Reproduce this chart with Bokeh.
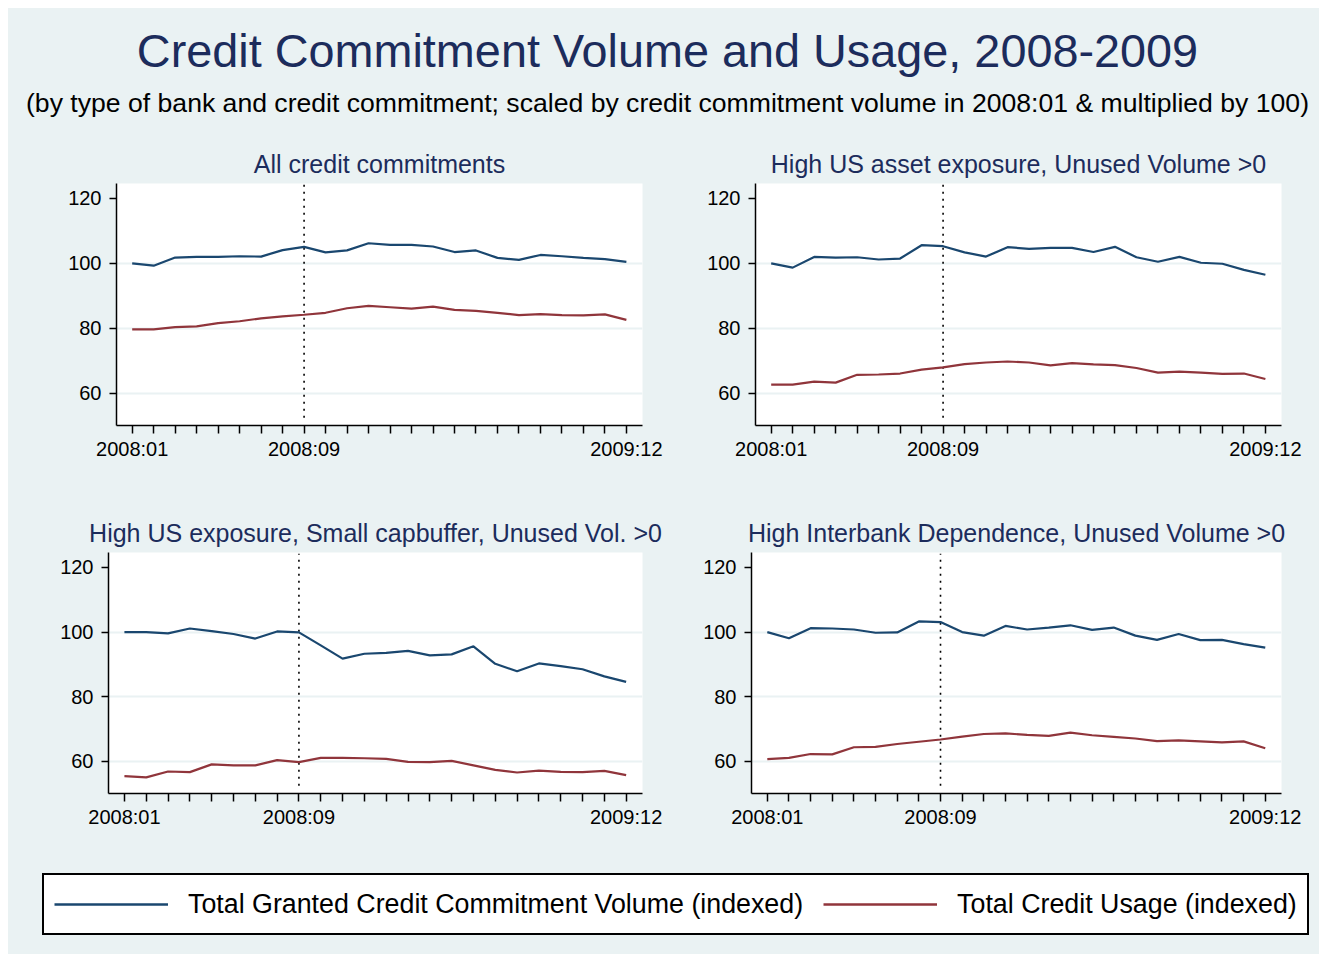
from bokeh.plotting import figure
from bokeh.models import Range1d, FixedTicker, Label, Legend, LegendItem
from bokeh.layouts import column, row
from bokeh.embed import file_html
from bokeh.resources import INLINE

# ---------------- data ----------------
months = ["2008:01", "2008:02", "2008:03", "2008:04", "2008:05", "2008:06",
          "2008:07", "2008:08", "2008:09", "2008:10", "2008:11", "2008:12",
          "2009:01", "2009:02", "2009:03", "2009:04", "2009:05", "2009:06",
          "2009:07", "2009:08", "2009:09", "2009:10", "2009:11", "2009:12"]
labelled_months = ["2008:01", "2008:09", "2009:12"]
event_month = "2008:09"

panel_titles = ["All credit commitments",
                "High US asset exposure, Unused Volume >0",
                "High US exposure, Small capbuffer, Unused Vol. >0",
                "High Interbank Dependence, Unused Volume >0"]

volume_all = [100.0, 99.3, 101.8, 102.0, 102.0, 102.2, 102.1, 104.1, 105.1, 103.4, 104.0, 106.2,
              105.7, 105.7, 105.2, 103.5, 104.0, 101.7, 101.1, 102.6, 102.2, 101.7, 101.3, 100.5]
usage_all = [79.7, 79.7, 80.4, 80.6, 81.6, 82.2, 83.1, 83.7, 84.2, 84.8, 86.2, 86.9,
             86.5, 86.1, 86.7, 85.7, 85.4, 84.8, 84.1, 84.4, 84.1, 84.0, 84.3, 82.6]

volume_us_asset = [100.0, 98.7, 102.0, 101.8, 101.9, 101.2, 101.5, 105.6, 105.3, 103.4, 102.1, 105.0,
                   104.5, 104.8, 104.8, 103.5, 105.1, 101.9, 100.5, 102.0, 100.2, 99.9, 98.0, 96.5]
usage_us_asset = [62.7, 62.7, 63.6, 63.3, 65.7, 65.8, 66.1, 67.3, 68.0, 69.0, 69.5, 69.8,
                  69.5, 68.6, 69.3, 68.9, 68.7, 67.8, 66.4, 66.7, 66.4, 66.0, 66.1, 64.4]

volume_us_capbuf = [100.0, 100.0, 99.6, 101.1, 100.3, 99.4, 98.0, 100.2, 99.9, 95.9, 91.8, 93.3,
                    93.6, 94.2, 92.8, 93.1, 95.6, 90.2, 87.9, 90.3, 89.5, 88.5, 86.3, 84.6]
usage_us_capbuf = [55.5, 55.1, 56.9, 56.7, 59.1, 58.8, 58.8, 60.4, 59.8, 61.1, 61.1, 61.0,
                   60.8, 59.9, 59.8, 60.2, 58.8, 57.4, 56.6, 57.2, 56.8, 56.7, 57.1, 55.8]

volume_interbank = [100.0, 98.1, 101.2, 101.1, 100.8, 99.8, 99.9, 103.3, 103.1, 100.0, 98.9, 101.9,
                    100.8, 101.4, 102.1, 100.7, 101.4, 98.9, 97.6, 99.4, 97.5, 97.6, 96.3, 95.2]
usage_interbank = [60.7, 61.1, 62.3, 62.2, 64.4, 64.5, 65.4, 66.1, 66.8, 67.7, 68.5, 68.7,
                   68.2, 67.9, 68.9, 68.1, 67.6, 67.1, 66.3, 66.5, 66.2, 65.9, 66.2, 64.1]

y_ticks = [60, 80, 100, 120]
grid_ticks = [60, 80, 100]

series_names = ["Total Granted Credit Commitment Volume (indexed)",
                "Total Credit Usage (indexed)"]

main_title = "Credit Commitment Volume and Usage, 2008-2009"
sub_title = ("(by type of bank and credit commitment; scaled by credit commitment "
             "volume in 2008:01 & multiplied by 100)")

# ---------------- style ----------------
BG = "#EAF2F3"
BLUE = "#1a476f"
RED = "#90353b"
TITLE_COLOR = "#1c2c5c"
FONT = "Liberation Sans"

x = list(range(1, len(months) + 1))
x_event = months.index(event_month) + 1
overrides = {i + 1: (m if m in labelled_months else "") for i, m in enumerate(months)}


def panel(title, vol, use, fw, fh, bl, br, bt, bb):
    p = figure(frame_width=fw, frame_height=fh,
               min_border_left=bl, min_border_right=br,
               min_border_top=bt, min_border_bottom=bb,
               x_range=Range1d(0.27, 24.75), y_range=Range1d(50.1, 124.6),
               output_backend="svg", toolbar_location=None,
               background_fill_color="white", border_fill_color=BG,
               outline_line_color=None, styles={"background-color": BG})
    p.title.text = title
    p.title.align = "center"
    p.title.text_font = FONT
    p.title.text_font_size = "25px"
    p.title.text_font_style = "normal"
    p.title.text_color = TITLE_COLOR
    p.title.standoff = 12

    p.xgrid.grid_line_color = None
    p.ygrid.ticker = FixedTicker(ticks=grid_ticks)
    p.ygrid.grid_line_color = BG
    p.ygrid.grid_line_width = 2

    for ax in (p.xaxis[0], p.yaxis[0]):
        ax.axis_line_color = "black"
        ax.axis_line_width = 1.5
        ax.major_tick_line_color = "black"
        ax.major_tick_line_width = 1.5
        ax.major_tick_in = 0
        ax.minor_tick_line_color = None
        ax.major_label_text_font = FONT
        ax.major_label_text_font_size = "20px"
        ax.major_label_text_color = "black"

    p.xaxis.ticker = FixedTicker(ticks=x)
    p.xaxis.major_label_overrides = overrides
    p.xaxis.major_tick_out = 8
    p.xaxis.major_label_standoff = 4

    p.yaxis.ticker = FixedTicker(ticks=y_ticks)
    p.yaxis.major_tick_out = 7
    p.yaxis.major_label_standoff = 8
    p.yaxis.major_label_orientation = "horizontal"

    p.segment(x0=[x_event], y0=[52.5], x1=[x_event], y1=[124.2],
              line_color="black", line_width=1.6, line_dash="2 5")
    p.line(x, vol, line_color=BLUE, line_width=2.2)
    p.line(x, use, line_color=RED, line_width=2.2)
    return p


tl = panel(panel_titles[0], volume_all, usage_all, 526, 242, 108, 56, 43, 80)
tr = panel(panel_titles[1], volume_us_asset, usage_us_asset, 526, 242, 57, 38, 43, 80)
bl = panel(panel_titles[2], volume_us_capbuf, usage_us_capbuf, 534, 241, 100, 56, 47, 57)
br = panel(panel_titles[3], volume_interbank, usage_interbank, 530, 241, 53, 38, 47, 57)

# header
hdr = figure(width=1311, height=132, x_range=Range1d(0, 1311), y_range=Range1d(0, 132),
             x_axis_location=None, y_axis_location=None, min_border=0,
             output_backend="svg", toolbar_location=None,
             background_fill_color=BG, border_fill_color=BG, outline_line_color=None,
             styles={"background-color": BG})
hdr.grid.visible = False
hdr.add_layout(Label(x=659, y=90, text=main_title, text_align="center", text_baseline="middle",
                     text_font=FONT, text_font_size="46.8px", text_color=TITLE_COLOR))
hdr.add_layout(Label(x=659, y=38, text=sub_title, text_align="center", text_baseline="middle",
                     text_font=FONT, text_font_size="26.6px", text_color="black"))

# legend
leg = figure(width=1311, height=104, x_range=Range1d(0, 1), y_range=Range1d(0, 1),
             x_axis_location=None, y_axis_location=None, min_border=0,
             output_backend="svg", toolbar_location=None,
             background_fill_color=BG, border_fill_color=BG, outline_line_color=None,
             styles={"background-color": BG})
leg.grid.visible = False
# keys only: the lines lie outside the visible range
r1 = leg.line([-5, -4], [-5, -5], line_color=BLUE, line_width=2.5)
r2 = leg.line([-5, -4], [-5, -5], line_color=RED, line_width=2.5)
legend = Legend(items=[LegendItem(label=series_names[0], renderers=[r1]),
                       LegendItem(label=series_names[1], renderers=[r2])],
                orientation="horizontal", location=(34, 19),
                glyph_width=114, glyph_height=38, label_height=38,
                label_standoff=20, spacing=20, padding=10,
                label_text_font=FONT, label_text_font_size="26.8px",
                label_text_color="black",
                border_line_color="black", border_line_width=2, border_line_alpha=1.0,
                background_fill_color="white", background_fill_alpha=1.0)
leg.add_layout(legend)

layout = column(hdr, row(tl, tr, styles={"background-color": BG}),
                row(bl, br, styles={"background-color": BG}), leg,
                margin=(8, 8, 8, 8), styles={"background-color": BG})

open("out.html", "w").write(file_html(layout, INLINE))
